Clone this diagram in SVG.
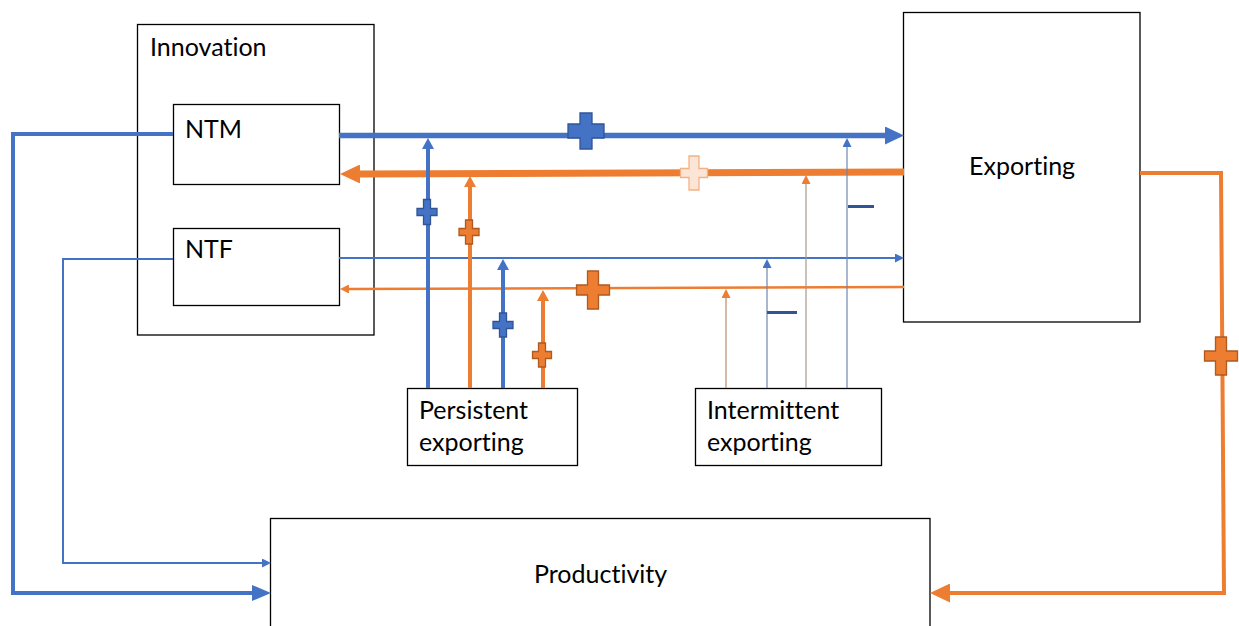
<svg xmlns="http://www.w3.org/2000/svg" width="1239" height="626" viewBox="0 0 1239 626">
  <style>
    .box { fill: #ffffff; stroke: #000000; stroke-width: 1.3; }
    .lbl { font-family: "Lato", "Liberation Sans", sans-serif; font-size: 25px; fill: #000000; font-variant-ligatures: none; }
    .blue { stroke: #4472C4; fill: none; }
    .orange { stroke: #ED7D31; fill: none; }
    .plusB { fill: #4472C4; stroke: #2F5597; stroke-width: 1.3; }
    .plusO { fill: #ED7D31; stroke: #AE5A21; stroke-width: 1.3; }
    .plusP { fill: #FBE5D6; stroke: #F4B183; stroke-width: 1.3; }
    .minus { stroke: #2F5597; stroke-width: 3; }
  </style>
  <defs>
    <marker id="ahBlueL" markerUnits="userSpaceOnUse" markerWidth="20" markerHeight="18" refX="0" refY="9" orient="auto">
      <path d="M0,0 L19,9 L0,18 Z" fill="#4472C4"/>
    </marker>
    <marker id="ahBlueL2" markerUnits="userSpaceOnUse" markerWidth="20" markerHeight="16" refX="0" refY="8" orient="auto">
      <path d="M0,0 L19,8 L0,16 Z" fill="#4472C4"/>
    </marker>
    <marker id="ahOrangeL" markerUnits="userSpaceOnUse" markerWidth="21" markerHeight="19" refX="0" refY="9.5" orient="auto">
      <path d="M0,0 L20,9.5 L0,19 Z" fill="#ED7D31"/>
    </marker>
    <marker id="ahBlueM" markerUnits="userSpaceOnUse" markerWidth="12" markerHeight="12" refX="0" refY="6" orient="auto">
      <path d="M0,0 L11,6 L0,12 Z" fill="#4472C4"/>
    </marker>
    <marker id="ahOrangeM" markerUnits="userSpaceOnUse" markerWidth="12" markerHeight="12" refX="0" refY="6" orient="auto">
      <path d="M0,0 L11,6 L0,12 Z" fill="#ED7D31"/>
    </marker>
    <marker id="ahBlueS" markerUnits="userSpaceOnUse" markerWidth="10" markerHeight="9" refX="0" refY="4.5" orient="auto">
      <path d="M0,0 L9,4.5 L0,9 Z" fill="#4472C4"/>
    </marker>
    <marker id="ahOrangeS" markerUnits="userSpaceOnUse" markerWidth="10" markerHeight="9" refX="0" refY="4.5" orient="auto">
      <path d="M0,0 L9,4.5 L0,9 Z" fill="#ED7D31"/>
    </marker>
  </defs>

  <!-- nodes -->
  <g id="innovation">
    <rect class="box" x="137.5" y="24.5" width="236.5" height="310.5"/>
    <text class="lbl" x="150" y="56">Innovation</text>
  </g>
  <g id="ntm">
    <rect class="box" x="173.5" y="104.5" width="166" height="80"/>
    <text class="lbl" x="185" y="138">NTM</text>
  </g>
  <g id="ntf">
    <rect class="box" x="173.5" y="228.5" width="166" height="77"/>
    <text class="lbl" x="185" y="258">NTF</text>
  </g>
  <g id="exporting">
    <rect class="box" x="903.5" y="12.5" width="236.5" height="309.5"/>
    <text class="lbl" x="969" y="175">Exporting</text>
  </g>
  <g id="persistent">
    <rect class="box" x="407.5" y="388.5" width="170" height="77"/>
    <text class="lbl" x="419" y="419">Persistent</text>
    <text class="lbl" x="419" y="451">exporting</text>
  </g>
  <g id="intermittent">
    <rect class="box" x="695.5" y="388.5" width="186" height="77"/>
    <text class="lbl" x="707" y="419">Intermittent</text>
    <text class="lbl" x="707" y="451">exporting</text>
  </g>
  <g id="productivity">
    <rect class="box" x="270.5" y="518.5" width="659.5" height="120"/>
    <text class="lbl" x="534" y="583">Productivity</text>
  </g>

  <!-- connectors -->
  <g id="connectors">
    <!-- innovation <-> exporting -->
    <line class="blue" x1="339" y1="135.5" x2="885" y2="135.5" stroke-width="5.5" marker-end="url(#ahBlueL)"/>
    <line class="orange" x1="904" y1="172" x2="360" y2="174" stroke-width="7" marker-end="url(#ahOrangeL)"/>
    <line class="blue" x1="339" y1="258" x2="895" y2="258" stroke-width="1.8" marker-end="url(#ahBlueS)"/>
    <line class="orange" x1="904" y1="287" x2="349" y2="289" stroke-width="2.5" marker-end="url(#ahOrangeS)"/>

    <!-- persistent exporting moderators -->
    <line class="blue" x1="428" y1="388" x2="428" y2="149" stroke-width="4" marker-end="url(#ahBlueM)"/>
    <line class="orange" x1="470" y1="388" x2="470" y2="187" stroke-width="4" marker-end="url(#ahOrangeM)"/>
    <line class="blue" x1="503" y1="388" x2="503" y2="270" stroke-width="4" marker-end="url(#ahBlueM)"/>
    <line class="orange" x1="543" y1="388" x2="543" y2="301" stroke-width="4" marker-end="url(#ahOrangeM)"/>

    <!-- intermittent exporting moderators -->
    <line x1="726" y1="388" x2="726" y2="298" stroke="#B98A6E" stroke-width="1.2" marker-end="url(#ahOrangeS)"/>
    <line x1="767" y1="388" x2="767" y2="268" stroke="#7085B0" stroke-width="1.2" marker-end="url(#ahBlueS)"/>
    <line x1="806" y1="388" x2="806" y2="184" stroke="#A89888" stroke-width="1.2" marker-end="url(#ahOrangeS)"/>
    <line x1="847" y1="388" x2="847" y2="147" stroke="#7085B0" stroke-width="1.2" marker-end="url(#ahBlueS)"/>

    <!-- links to productivity -->
    <polyline class="blue" points="173,134 13,134 13,593 252,593" stroke-width="4" marker-end="url(#ahBlueL2)"/>
    <polyline class="blue" points="173,259 63,259 63,563 262,563" stroke-width="2" marker-end="url(#ahBlueS)"/>
    <polyline class="orange" points="1140,173 1221,173 1224,593 950,593" stroke-width="4" marker-end="url(#ahOrangeL)"/>

    <!-- signs -->
    <path class="plusB" d="M580,113 H592 V124 H604 V138 H592 V149 H580 V138 H568 V124 H580 Z"/>
    <path class="plusP" d="M689,156 H699 V168.5 H707.5 V177.5 H699 V190 H689 V177.5 H680.5 V168.5 H689 Z"/>
    <path class="plusO" d="M587.5,271 H598.5 V285 H609.5 V295 H598.5 V309 H587.5 V295 H576.5 V285 H587.5 Z"/>
    <path class="plusO" d="M1215.5,337 H1226.5 V351 H1237.5 V361 H1226.5 V375 H1215.5 V361 H1204.5 V351 H1215.5 Z"/>
    <path class="plusB" d="M423.5,199.5 H430.5 V208.5 H437 V215.5 H430.5 V224.5 H423.5 V215.5 H417 V208.5 H423.5 Z"/>
    <path class="plusO" d="M465.5,220 H472.5 V228.5 H479 V235.5 H472.5 V244 H465.5 V235.5 H459 V228.5 H465.5 Z"/>
    <path class="plusB" d="M499.5,313 H506.5 V321.5 H513 V328.5 H506.5 V337 H499.5 V328.5 H493 V321.5 H499.5 Z"/>
    <path class="plusO" d="M538.5,343 H545.5 V351.5 H551.5 V358.5 H545.5 V367 H538.5 V358.5 H532.5 V351.5 H538.5 Z"/>
    <line class="minus" x1="848" y1="206.5" x2="874" y2="206.5"/>
    <line class="minus" x1="767" y1="312.5" x2="797" y2="312.5"/>
  </g>
</svg>
